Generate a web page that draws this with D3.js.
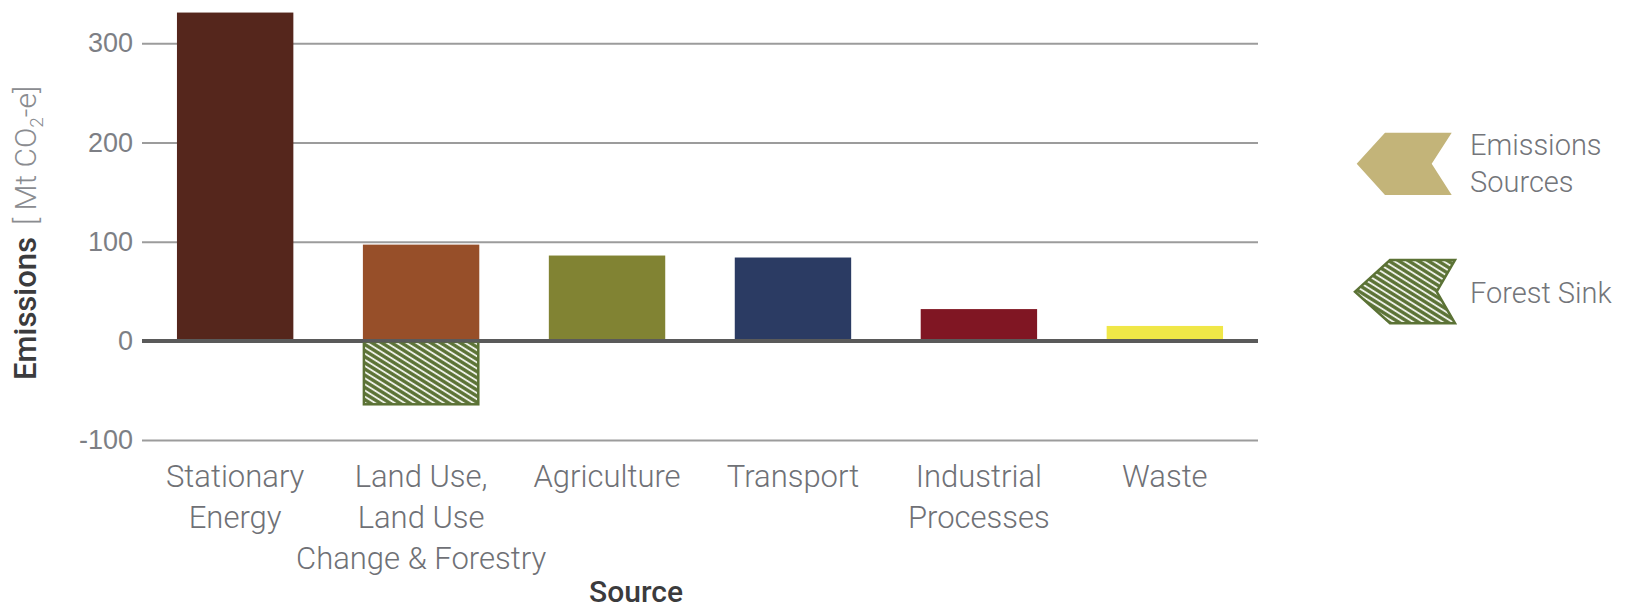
<!DOCTYPE html>
<html>
<head>
<meta charset="utf-8">
<script src="https://cdn.jsdelivr.net/npm/d3@7"></script>
<style>
  html, body { margin: 0; padding: 0; background: #fff; }
  svg { display: block; font-family: Roboto, "Noto Sans", sans-serif; }
</style>
</head>
<body>
<svg id="chart" width="1633" height="610"></svg>
<script>
// Emissions by source (Mt CO2-e)
const categories = ["Stationary Energy", "Land Use, Land Use Change & Forestry", "Agriculture", "Transport", "Industrial Processes", "Waste"];
const labelLines = [["Stationary", "Energy"], ["Land Use,", "Land Use", "Change & Forestry"], ["Agriculture"], ["Transport"], ["Industrial", "Processes"], ["Waste"]];
const emissions = [331, 97, 86, 84, 32, 15];
const forestSink = [0, -65, 0, 0, 0, 0];
const barColors = ["#55261c", "#974f29", "#818333", "#2b3b63", "#801623", "#f0e747"];
const yTicks = [-100, 0, 100, 200, 300];
const legendItems = ["Emissions Sources", "Forest Sink"];

const svg = d3.select("#chart");
const left = 142, right = 1258;

const x = d3.scaleBand()
  .domain(categories)
  .range([left, right])
  .paddingInner(0.374)
  .paddingOuter(0.188);

const y = d3.scaleLinear().domain([-100, 300]).range([440, 43.3]);

// hatch pattern for the sink
const defs = svg.append("defs");
const pat = defs.append("pattern")
  .attr("id", "hatch")
  .attr("patternUnits", "userSpaceOnUse")
  .attr("width", 10).attr("height", 5.2)
  .attr("patternTransform", "rotate(32)");
pat.append("rect").attr("width", 10).attr("height", 5.2).attr("fill", "#5b7235");
pat.append("line").attr("x1", 0).attr("x2", 10).attr("y1", 2.6).attr("y2", 2.6)
  .attr("stroke", "#eef1e8").attr("stroke-width", 1.9);

// gridlines and tick labels
const yAxis = d3.axisLeft(y).tickValues(yTicks).tickSize(-(right - left)).tickPadding(9);
const gy = svg.append("g").attr("transform", `translate(${left},0)`).call(yAxis);
gy.select(".domain").remove();
gy.selectAll(".tick line")
  .attr("stroke", d => d === 0 ? "#5a5a5a" : "#9c9c9c")
  .attr("stroke-width", d => d === 0 ? 3.5 : 2);
gy.selectAll(".tick text")
  .attr("fill", "#7d7f85")
  .attr("font-size", 27)
  .attr("font-weight", 300)
  .text(d => d);

// emission bars
svg.append("g").selectAll("rect")
  .data(categories)
  .join("rect")
  .attr("x", d => x(d))
  .attr("width", x.bandwidth())
  .attr("y", (d, i) => y(emissions[i]))
  .attr("height", (d, i) => y(0) - y(emissions[i]) - 1)
  .attr("fill", (d, i) => barColors[i]);

// forest sink bar
svg.append("g").selectAll("rect")
  .data(categories.filter((d, i) => forestSink[i] < 0))
  .join("rect")
  .attr("x", d => x(d) + 1)
  .attr("width", x.bandwidth() - 2)
  .attr("y", y(0) + 1)
  .attr("height", d => y(forestSink[categories.indexOf(d)]) - y(0) - 2)
  .attr("fill", "url(#hatch)")
  .attr("stroke", "#5b7235")
  .attr("stroke-width", 2.5);

// redraw zero line on top of bars
svg.append("line")
  .attr("x1", left).attr("x2", right)
  .attr("y1", y(0)).attr("y2", y(0))
  .attr("stroke", "#5a5a5a").attr("stroke-width", 3.5);

// category labels
const xl = svg.append("g");
categories.forEach((c, i) => {
  const t = xl.append("text")
    .attr("text-anchor", "middle")
    .attr("font-size", 31)
    .attr("font-weight", 300)
    .attr("fill", "#6f7176");
  labelLines[i].forEach((line, j) => {
    t.append("tspan")
      .attr("x", x(c) + x.bandwidth() / 2)
      .attr("y", 487 + j * 41)
      .text(line);
  });
});

// x axis title
svg.append("text")
  .attr("x", 636).attr("y", 602)
  .attr("text-anchor", "middle")
  .attr("font-size", 30)
  .attr("font-weight", 500)
  .attr("fill", "#3b3b3d")
  .text("Source");

// y axis title
const yt = svg.append("text")
  .attr("transform", "translate(36,380) rotate(-90)")
  .attr("text-anchor", "start");
yt.append("tspan").attr("font-size", 31).attr("font-weight", 500).attr("fill", "#3b3b3d").text("Emissions");
yt.append("tspan").attr("font-size", 30).attr("font-weight", 300).attr("fill", "#8a8c90").attr("dx", 12).text("[ Mt CO");
yt.append("tspan").attr("font-size", 19).attr("font-weight", 300).attr("fill", "#8a8c90").attr("dy", 7).text("2");
yt.append("tspan").attr("font-size", 30).attr("font-weight", 300).attr("fill", "#8a8c90").attr("dy", -7).text("-e]");

// legend chevrons
function chevron(x0, y0, w, h, notch, tip) {
  return `M${x0},${y0} L${x0 + w},${y0} L${x0 + w - notch},${y0 + h / 2} L${x0 + w},${y0 + h} L${x0},${y0 + h} L${x0 - tip},${y0 + h / 2} Z`;
}
const legend = svg.append("g");
legend.append("path")
  .attr("d", chevron(1385, 132.7, 66.7, 62.3, 20, 28.3))
  .attr("fill", "#c3b479");
legend.append("path")
  .attr("d", chevron(1390, 260, 65, 63.3, 18.3, 35))
  .attr("fill", "url(#hatch)")
  .attr("stroke", "#5b7235")
  .attr("stroke-width", 2.5);

const lt = legend.append("g")
  .attr("font-size", 29).attr("font-weight", 300).attr("fill", "#73757a");
const lt1 = lt.append("text");
legendItems[0].split(" ").forEach((w, j) => {
  lt1.append("tspan").attr("x", 1470).attr("y", 155 + j * 37).text(w);
});
lt.append("text").attr("x", 1470).attr("y", 303).text(legendItems[1]);
</script>
</body>
</html>
